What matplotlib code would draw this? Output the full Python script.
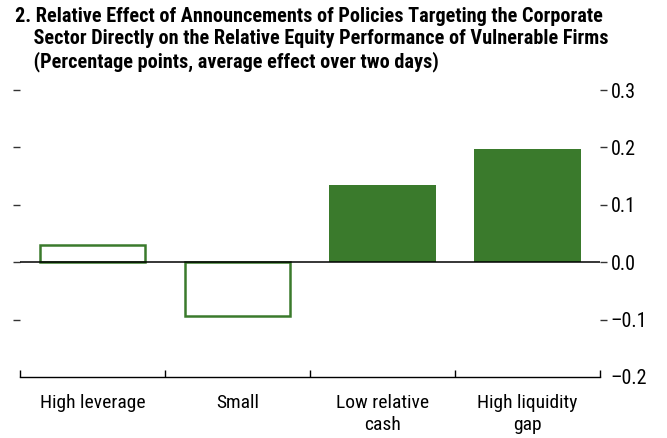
import numpy as np
import matplotlib.pyplot as plt

# data
categories = ['High leverage', 'Small', 'Low relative\ncash', 'High liquidity\ngap']
effects = [0.03, -0.094, 0.135, 0.197]
filled = [False, False, True, True]   # hollow = not significant

green = '#3a7a2c'
plt.rcParams['font.family'] = ['Roboto Condensed', 'DejaVu Sans']

fig = plt.figure(figsize=(6.67, 4.38), dpi=100)
ax = fig.add_axes([20/667, 61/438, 580/667, 287/438])

x = np.arange(len(categories))
for xi, v, f in zip(x, effects, filled):
    if f:
        ax.bar(xi, v, width=0.74, color=green, edgecolor=green, linewidth=0)
    else:
        ax.bar(xi, v, width=0.73, facecolor='white', edgecolor=green, linewidth=1.8)

ax.axhline(0, color='black', linewidth=1.1, zorder=3)

ax.set_xlim(-0.5, 3.5)
ax.set_ylim(-0.2, 0.3)

for s in ['top', 'left', 'right']:
    ax.spines[s].set_visible(False)
ax.spines['bottom'].set_linewidth(1.0)

# y ticks on both sides, labels on right only
yt = [-0.2, -0.1, 0.0, 0.1, 0.2, 0.3]
ax.set_yticks(yt)
ax.set_yticklabels(['\u20130.2', '\u20130.1', '0.0', '0.1', '0.2', '0.3'])
ax.tick_params(axis='y', left=True, right=True, labelleft=False, labelright=True,
               direction='out', length=5, width=1.0, color='#333333',
               labelsize=14.5, pad=2.5)
ax.yaxis.get_major_ticks()[0].tick1line.set_visible(False)
ax.yaxis.get_major_ticks()[0].tick2line.set_visible(False)

# x ticks at boundaries, labels at centers
ax.set_xticks(np.arange(-0.5, 4, 1.0))
ax.set_xticklabels([])
ax.tick_params(axis='x', which='major', direction='in', length=5, width=1.0)
ax.set_xticks(x, minor=True)
ax.set_xticklabels(categories, minor=True, fontsize=14, linespacing=1.3)
ax.tick_params(axis='x', which='minor', length=0, pad=12)

fig.text(15/667, 1 - 7.5/438,
         '2. Relative Effect of Announcements of Policies Targeting the Corporate\n'
         '    Sector Directly on the Relative Equity Performance of Vulnerable Firms\n'
         '    (Percentage points, average effect over two days)',
         fontsize=14.6, fontweight='bold', va='top', ha='left', linespacing=1.2)

fig.savefig('out.png', dpi=100)
